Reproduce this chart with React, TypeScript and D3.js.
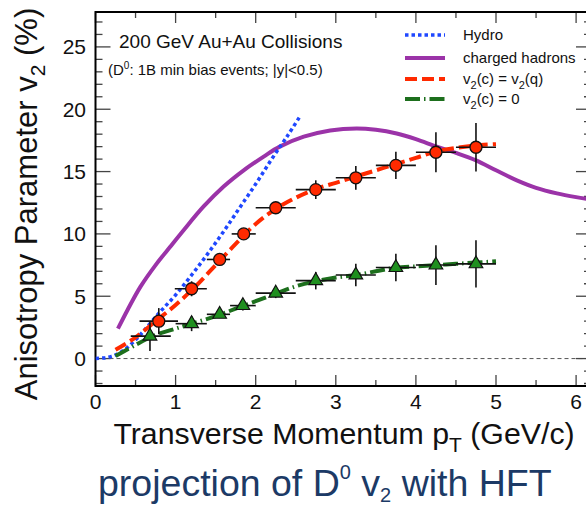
import React from 'react';
import * as d3 from 'd3';

const W = 586;
const H = 508;

const xTicks = [0, 1, 2, 3, 4, 5, 6];
const yTicks = [0, 5, 10, 15, 20, 25];

const hydroPt = [0, 0.1, 0.2, 0.3, 0.4, 0.5, 0.6, 0.8, 1.0, 1.2, 1.4, 1.6, 1.8, 2.0, 2.2, 2.4, 2.55];
const hydroV2 = [0, 0.05, 0.18, 0.45, 0.9, 1.5, 2.2, 3.7, 5.1, 6.7, 8.4, 10.2, 12.1, 14.0, 16.0, 17.9, 19.4];

const hadronPt = [0.28, 0.4, 0.56, 0.75, 0.93, 1.1, 1.35, 1.6, 1.85, 2.1, 2.3, 2.6, 2.93, 3.26, 3.5, 3.76, 4.0, 4.26, 4.5, 4.75, 5.0, 5.26, 5.5, 5.76, 6.0, 6.25];
const hadronV2 = [2.4, 3.9, 5.75, 7.5, 8.95, 10.3, 12.2, 13.8, 15.1, 16.2, 17.0, 17.8, 18.3, 18.46, 18.35, 18.05, 17.6, 17.0, 16.5, 15.9, 15.1, 14.3, 13.7, 13.25, 12.95, 12.7];

const quarkPt = [0.25, 0.5, 0.75, 1.0, 1.25, 1.5, 1.75, 2.0, 2.25, 2.5, 2.75, 3.0, 3.25, 3.5, 3.75, 4.0, 4.25, 4.5, 4.75, 5.0];
const quarkV2 = [0.7, 1.7, 3.0, 4.3, 5.8, 7.5, 9.2, 10.8, 12.0, 12.9, 13.6, 14.1, 14.6, 15.1, 15.6, 16.1, 16.6, 16.9, 17.1, 17.2];

const zeroPt = [0.25, 0.5, 0.75, 1.0, 1.25, 1.5, 1.75, 2.0, 2.25, 2.5, 2.75, 3.0, 3.25, 3.5, 3.75, 4.0, 4.25, 4.5, 4.75, 5.0];
const zeroV2 = [0.2, 1.1, 1.9, 2.4, 2.9, 3.4, 4.0, 4.6, 5.2, 5.8, 6.2, 6.5, 6.7, 7.0, 7.3, 7.4, 7.5, 7.6, 7.7, 7.8];

const redPt = [0.79, 1.2, 1.55, 1.85, 2.25, 2.75, 3.25, 3.75, 4.25, 4.75];
const redV2 = [3.0, 5.6, 7.95, 10.0, 12.1, 13.55, 14.5, 15.5, 16.55, 16.95];
const redErr = [1.05, 0.6, 0.35, 0.35, 0.4, 0.75, 0.95, 1.1, 1.6, 1.95];
const redLo = [0.55, 0.99, 1.39, 1.7, 2.0, 2.5, 3.0, 3.5, 4.0, 4.5];
const redHi = [1.03, 1.39, 1.68, 2.0, 2.5, 3.0, 3.5, 4.0, 4.5, 5.0];

const greenPt = [0.68, 1.2, 1.55, 1.84, 2.25, 2.75, 3.25, 3.75, 4.25, 4.75];
const greenV2 = [1.8, 2.8, 3.55, 4.25, 5.25, 6.25, 6.7, 7.3, 7.5, 7.6];
const greenErr = [1.2, 0.6, 0.3, 0.4, 0.4, 0.7, 0.9, 1.1, 1.6, 1.9];
const greenLo = [0.44, 1.0, 1.39, 1.68, 2.0, 2.5, 3.0, 3.5, 4.0, 4.5];
const greenHi = [0.94, 1.39, 1.68, 2.0, 2.5, 3.0, 3.5, 4.0, 4.5, 5.0];

const FONT = "'Liberation Sans', Arial, Helvetica, sans-serif";

const L = 95.5, R = 591, T = 12, B = 386;

export default function App() {
  const x = d3.scaleLinear().domain([0, (R - L) / 80.1]).range([L, R]);
  const y = d3.scaleLinear().domain([-2.2, 27.8]).range([B, T]);

  const line = (xs: number[], ys: number[], curve = d3.curveCatmullRom) =>
    d3.line<number>().x((_, i) => x(xs[i])).y((_, i) => y(ys[i])).curve(curve)(xs) || '';

  const xMinor = d3.range(0, 6.5, 0.5);
  const yMinor = d3.range(-2, 28, 1);
  const tri = d3.symbol().type(d3.symbolTriangle).size(80)() || '';

  const legend = [
    { yy: 35, color: '#1f47ff', dash: '3.5,3', w: 3.5 },
    { yy: 58, color: '#9b33a8', dash: '', w: 4 },
    { yy: 79, color: '#ff2a00', dash: '12,5', w: 4 },
    { yy: 99, color: '#1d6f1d', dash: '15,4,1.5,4', w: 4 },
  ];

  return (
    <svg width={W} height={H} style={{ position: 'absolute', left: 0, top: 0, background: '#fff' }} fontFamily={FONT}>
      <defs>
        <clipPath id="plot"><rect x={L} y={T} width={R - L} height={B - T} /></clipPath>
      </defs>
      <rect x={0} y={0} width={W} height={H} fill="#fff" />

      {/* zero line */}
      <line x1={L} x2={R} y1={y(0)} y2={y(0)} stroke="#555" strokeWidth={1} strokeDasharray="4,3" />

      {/* ticks */}
      {xMinor.map((v) => {
        const major = Math.abs(v - Math.round(v)) < 1e-6;
        const len = major ? 11 : 6;
        return (
          <g key={'xt' + v} stroke="#444" strokeWidth={1.3}>
            <line x1={x(v)} x2={x(v)} y1={B} y2={B - len} />
            <line x1={x(v)} x2={x(v)} y1={T} y2={T + len} />
          </g>
        );
      })}
      {yMinor.map((v) => {
        const major = v % 5 === 0;
        const len = major ? 15 : 7;
        return (
          <g key={'yt' + v} stroke="#444" strokeWidth={1.3}>
            <line x1={L} x2={L + len} y1={y(v)} y2={y(v)} />
            <line x1={R} x2={R - len} y1={y(v)} y2={y(v)} />
          </g>
        );
      })}

      {/* frame */}
      <rect x={L} y={T} width={R - L} height={B - T} fill="none" stroke="#000" strokeWidth={2} />

      {/* tick labels */}
      {xTicks.map((v) => (
        <text key={'xl' + v} x={x(v)} y={409} fontSize={21} textAnchor="middle" fill="#111">{v}</text>
      ))}
      {yTicks.map((v) => (
        <text key={'yl' + v} x={86} y={y(v) + 7.5} fontSize={21} textAnchor="end" fill="#111">{v}</text>
      ))}

      {/* curves */}
      <g clipPath="url(#plot)" fill="none">
        <path d={line(hadronPt, hadronV2)} stroke="#9b33a8" strokeWidth={4} />
        <path d={line(hydroPt, hydroV2)} stroke="#1f47ff" strokeWidth={3.5} strokeDasharray="3.5,3" />
        <path d={line(quarkPt, quarkV2)} stroke="#ff2a00" strokeWidth={4} strokeDasharray="12,5" />
        <path d={line(zeroPt, zeroV2)} stroke="#1d6f1d" strokeWidth={4} strokeDasharray="15,4,1.5,4" />
      </g>

      {/* error bars */}
      <g stroke="#111" strokeWidth={1.6}>
        {redPt.map((p, i) => (
          <g key={'re' + i}>
            <line x1={x(redLo[i])} x2={x(redHi[i])} y1={y(redV2[i])} y2={y(redV2[i])} />
            <line x1={x(p)} x2={x(p)} y1={y(redV2[i] - redErr[i])} y2={y(redV2[i] + redErr[i])} />
          </g>
        ))}
        {greenPt.map((p, i) => (
          <g key={'ge' + i}>
            <line x1={x(greenLo[i])} x2={x(greenHi[i])} y1={y(greenV2[i])} y2={y(greenV2[i])} />
            <line x1={x(p)} x2={x(p)} y1={y(greenV2[i] - greenErr[i])} y2={y(greenV2[i] + greenErr[i])} />
          </g>
        ))}
      </g>

      {/* markers */}
      {redPt.map((p, i) => (
        <circle key={'rm' + i} cx={x(p)} cy={y(redV2[i])} r={6} fill="#ff2a00" stroke="#111" strokeWidth={1.3} />
      ))}
      {greenPt.map((p, i) => (
        <path key={'gm' + i} d={tri} transform={`translate(${x(p)},${y(greenV2[i])})`} fill="#1f8f1f" stroke="#111" strokeWidth={1.2} />
      ))}

      {/* annotations */}
      <text x={119} y={48} fontSize={19} fill="#111">200 GeV Au+Au Collisions</text>
      <text x={108} y={75} fontSize={15} fill="#111">
        (D<tspan dy={-6} fontSize={10}>0</tspan><tspan dy={6}>: 1B min bias events; |y|&lt;0.5)</tspan>
      </text>

      {/* legend */}
      {legend.map((l, i) => (
        <line key={'lg' + i} x1={405} x2={445} y1={l.yy} y2={l.yy} stroke={l.color} strokeWidth={l.w} strokeDasharray={l.dash || undefined} />
      ))}
      <text x={463} y={40} fontSize={15} fill="#111">Hydro</text>
      <text x={463} y={63} fontSize={15} fill="#111">charged hadrons</text>
      <text x={463} y={84} fontSize={15} fill="#111">
        v<tspan dy={5} fontSize={11}>2</tspan><tspan dy={-5}>(c) = v</tspan><tspan dy={5} fontSize={11}>2</tspan><tspan dy={-5}>(q)</tspan>
      </text>
      <text x={463} y={104} fontSize={15} fill="#111">
        v<tspan dy={5} fontSize={11}>2</tspan><tspan dy={-5}>(c) = 0</tspan>
      </text>

      {/* axis titles */}
      <text x={344} y={444} fontSize={30.3} textAnchor="middle" fill="#111">
        Transverse Momentum p<tspan dy={8} fontSize={21}>T</tspan><tspan dy={-8}> (GeV/c)</tspan>
      </text>
      <text transform={`translate(37,204) rotate(-90)`} fontSize={31} textAnchor="middle" fill="#111">
        Anisotropy Parameter v<tspan dy={8} fontSize={21}>2</tspan><tspan dy={-8}> (%)</tspan>
      </text>

      {/* subtitle */}
      <text x={98} y={496} fontSize={37.5} fill="#1c3a66">
        projection of D<tspan dy={-17} fontSize={20}>0</tspan><tspan dy={17}> v</tspan><tspan dy={6} fontSize={20}>2</tspan><tspan dy={-6}> with HFT</tspan>
      </text>
    </svg>
  );
}
